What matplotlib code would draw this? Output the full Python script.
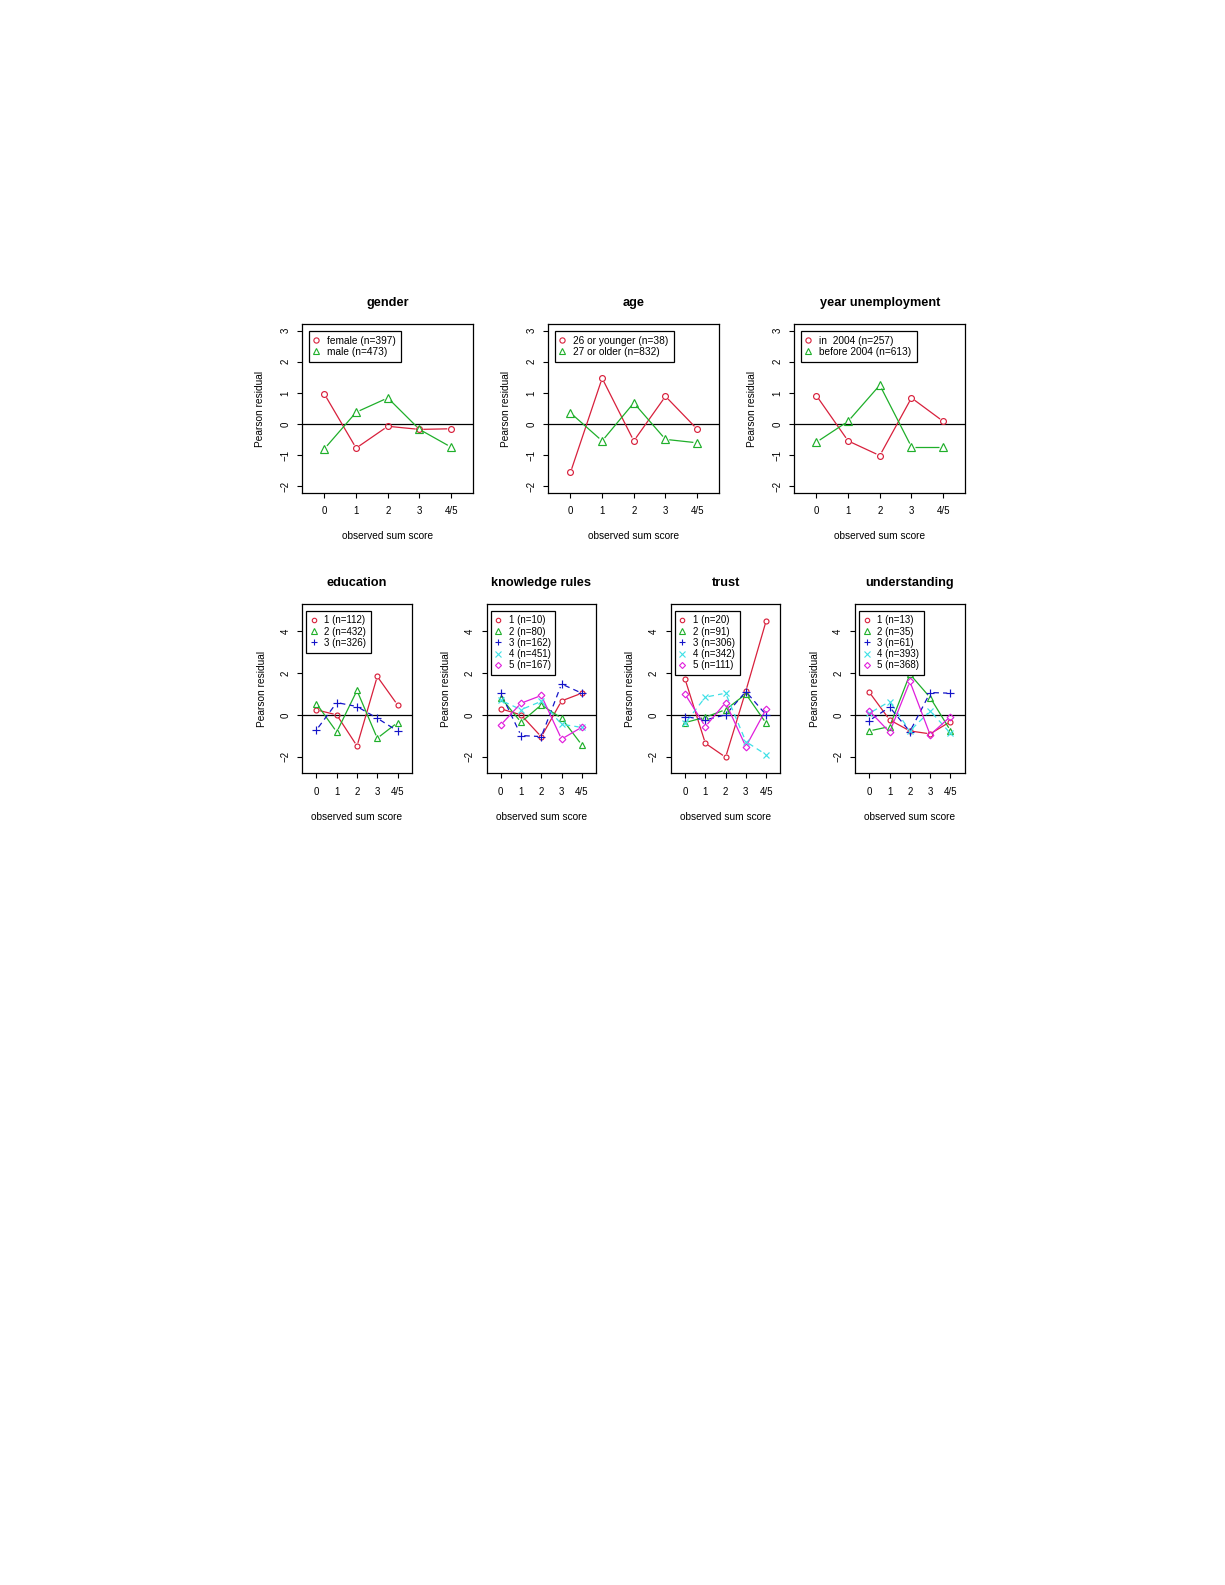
import numpy as np
import matplotlib
matplotlib.use("Agg")
import matplotlib.pyplot as plt
from matplotlib.lines import Line2D

plt.rcParams['font.family'] = ['Liberation Sans', 'DejaVu Sans']
plt.rcParams['lines.scale_dashes'] = False

# ---------------- data ----------------
score_labels = ["0", "1", "2", "3", "4/5"]
score_pos = [0, 1, 2, 3, 4]

gender_labels = ["female (n=397)", "male (n=473)"]
gender_female = [0.96, -0.77, -0.07, -0.17, -0.15]
gender_male = [-0.79, 0.38, 0.84, -0.17, -0.74]

age_labels = ["26 or younger (n=38)", "27 or older (n=832)"]
age_young = [-1.55, 1.47, -0.54, 0.89, -0.16]
age_old = [0.36, -0.54, 0.68, -0.49, -0.60]

year_labels = ["in  2004 (n=257)", "before 2004 (n=613)"]
year_in2004 = [0.91, -0.54, -1.01, 0.84, 0.09]
year_before = [-0.58, 0.09, 1.25, -0.73, -0.73]

edu_labels = ["1 (n=112)", "2 (n=432)", "3 (n=326)"]
edu_1 = [0.24, 0.00, -1.49, 1.84, 0.48]
edu_2 = [0.54, -0.82, 1.17, -1.12, -0.37]
edu_3 = [-0.72, 0.59, 0.40, -0.16, -0.77]

know_labels = ["1 (n=10)", "2 (n=80)", "3 (n=162)", "4 (n=451)", "5 (n=167)"]
know_1 = [0.29, 0.00, -1.05, 0.67, 1.04]
know_2 = [0.83, -0.35, 0.48, -0.16, -1.44]
know_3 = [1.04, -0.99, -1.04, 1.48, 1.04]
know_4 = [0.70, 0.25, 0.65, -0.45, -0.60]
know_5 = [-0.48, 0.56, 0.93, -1.16, -0.59]

trust_labels = ["1 (n=20)", "2 (n=91)", "3 (n=306)", "4 (n=342)", "5 (n=111)"]
trust_1 = [1.71, -1.36, -2.03, 1.15, 4.50]
trust_2 = [-0.37, -0.11, 0.25, 1.00, -0.40]
trust_3 = [-0.08, -0.24, 0.00, 1.12, 0.00]
trust_4 = [-0.40, 0.85, 1.04, -1.28, -1.91]
trust_5 = [0.99, -0.56, 0.59, -1.52, 0.27]

und_labels = ["1 (n=13)", "2 (n=35)", "3 (n=61)", "4 (n=393)", "5 (n=368)"]
und_1 = [1.08, -0.24, -0.77, -0.91, -0.32]
und_2 = [-0.77, -0.56, 1.95, 0.83, -0.75]
und_3 = [-0.27, 0.37, -0.80, 1.07, 1.04]
und_4 = [0.08, 0.64, -0.77, 0.19, -0.88]
und_5 = [0.19, -0.83, 1.60, -0.96, -0.08]

# ---------------- styles ----------------
colors = ["#D8203C", "#1FAF2A", "#1414C8", "#3EE0E6", "#E01EDC"]
markers = ["o", "^", "+", "x", "D"]
msizes = [4.2, 5.2, 6.0, 5.0, 4.0]
lstyles = ["-", "-", (0, (4, 3)), (0, (4, 3)), "-"]

W, H = 1225, 1585
DPI = 100
fig = plt.figure(figsize=(W / DPI, H / DPI), dpi=DPI)


def add_ax(left_px, top_px, w_px, h_px):
    return fig.add_axes([left_px / W, 1 - (top_px + h_px) / H, w_px / W, h_px / H])


def gapped_line(ax, xs, ys, color, ls, gap_px, lw):
    pts = ax.transData.transform(np.column_stack([xs, ys]))
    inv = ax.transData.inverted()
    for p, q in zip(pts[:-1], pts[1:]):
        d = q - p
        L = np.hypot(d[0], d[1])
        if L <= 2 * gap_px:
            continue
        u = d / L
        a = inv.transform(p + u * gap_px)
        b = inv.transform(q - u * gap_px)
        ax.plot([a[0], b[0]], [a[1], b[1]], color=color, ls=ls, lw=lw,
                solid_capstyle='butt', dash_capstyle='butt', zorder=3)


def panel(ax, title, series, labels, ylim, yticks, wpx, hpx, scale,
          leg_y, leg_fs, gap):
    ax.set_xlim(-0.7, 4.7)
    ax.set_ylim(*ylim)
    ax.axhline(0, color='black', lw=0.9, zorder=2)
    for i, ys in enumerate(series):
        gapped_line(ax, score_pos, ys, colors[i], lstyles[i], gap, 0.9)
        ax.plot(score_pos, ys, ls='none', marker=markers[i],
                ms=msizes[i] * scale, mfc='none', mec=colors[i], mew=0.85,
                zorder=4)
    ax.set_xticks(score_pos)
    ax.set_xticklabels(score_labels)
    ax.set_yticks(yticks)
    ax.set_yticklabels([str(t).replace('-', '\u2212') for t in yticks],
                       rotation=90, va='center')
    ax.tick_params(axis='both', direction='out', length=3.6, width=0.8,
                   labelsize=7, colors='black')
    ax.tick_params(axis='x', pad=6.0)
    ax.tick_params(axis='y', pad=5.0)
    for s in ax.spines.values():
        s.set_linewidth(0.9)
    ax.set_title(title, fontsize=9.2, fontweight='bold', pad=13.5)
    ax.set_xlabel("observed sum score", fontsize=7.3)
    ax.set_ylabel("Pearson residual", fontsize=7.3)
    ax.xaxis.set_label_coords(0.5, -43.5 / hpx)
    ax.xaxis.label.set_va('center')
    ax.yaxis.set_label_coords(-(42.0 if wpx > 150 else 40.5) / wpx, 0.5)
    ax.yaxis.label.set_va('center')

    handles = [Line2D([], [], ls='none', marker=markers[i],
                      ms=msizes[i] * scale * 0.9, mfc='none', mec=colors[i],
                      mew=0.8)
               for i in range(len(labels))]
    leg = ax.legend(handles, labels, loc='upper left',
                    bbox_to_anchor=(-0.5, leg_y), bbox_transform=ax.transData,
                    borderaxespad=0, fontsize=leg_fs, frameon=True,
                    fancybox=False, edgecolor='black', framealpha=1,
                    borderpad=0.5, labelspacing=0.12, handlelength=0.55,
                    handletextpad=0.8)
    leg.get_frame().set_linewidth(0.9)
    leg.set_zorder(5)


# top row
top_y, top_w, top_h = 324.3, 171.0, 168.4
top_lefts = [302.3, 548.3, 794.3]
top_specs = [
    ("gender", [gender_female, gender_male], gender_labels),
    ("age", [age_young, age_old], age_labels),
    ("year unemployment", [year_in2004, year_before], year_labels),
]
for left, (t, s, l) in zip(top_lefts, top_specs):
    ax = add_ax(left, top_y, top_w, top_h)
    panel(ax, t, s, l, (-2.2, 3.2), [-2, -1, 0, 1, 2, 3], top_w, top_h,
          1.0, 3, 7.3, 3.8)

# bottom row
bot_y, bot_w, bot_h = 604.3, 109.4, 169.0
bot_lefts = [302.3, 486.6, 670.9, 855.2]
bot_specs = [
    ("education", [edu_1, edu_2, edu_3], edu_labels),
    ("knowledge rules", [know_1, know_2, know_3, know_4, know_5], know_labels),
    ("trust", [trust_1, trust_2, trust_3, trust_4, trust_5], trust_labels),
    ("understanding", [und_1, und_2, und_3, und_4, und_5], und_labels),
]
for left, (t, s, l) in zip(bot_lefts, bot_specs):
    ax = add_ax(left, bot_y, bot_w, bot_h)
    panel(ax, t, s, l, (-2.8, 5.3), [-2, 0, 2, 4], bot_w, bot_h,
          0.85, 5, 7.0, 3.2)

fig.savefig("out.png", dpi=DPI, facecolor='white')
